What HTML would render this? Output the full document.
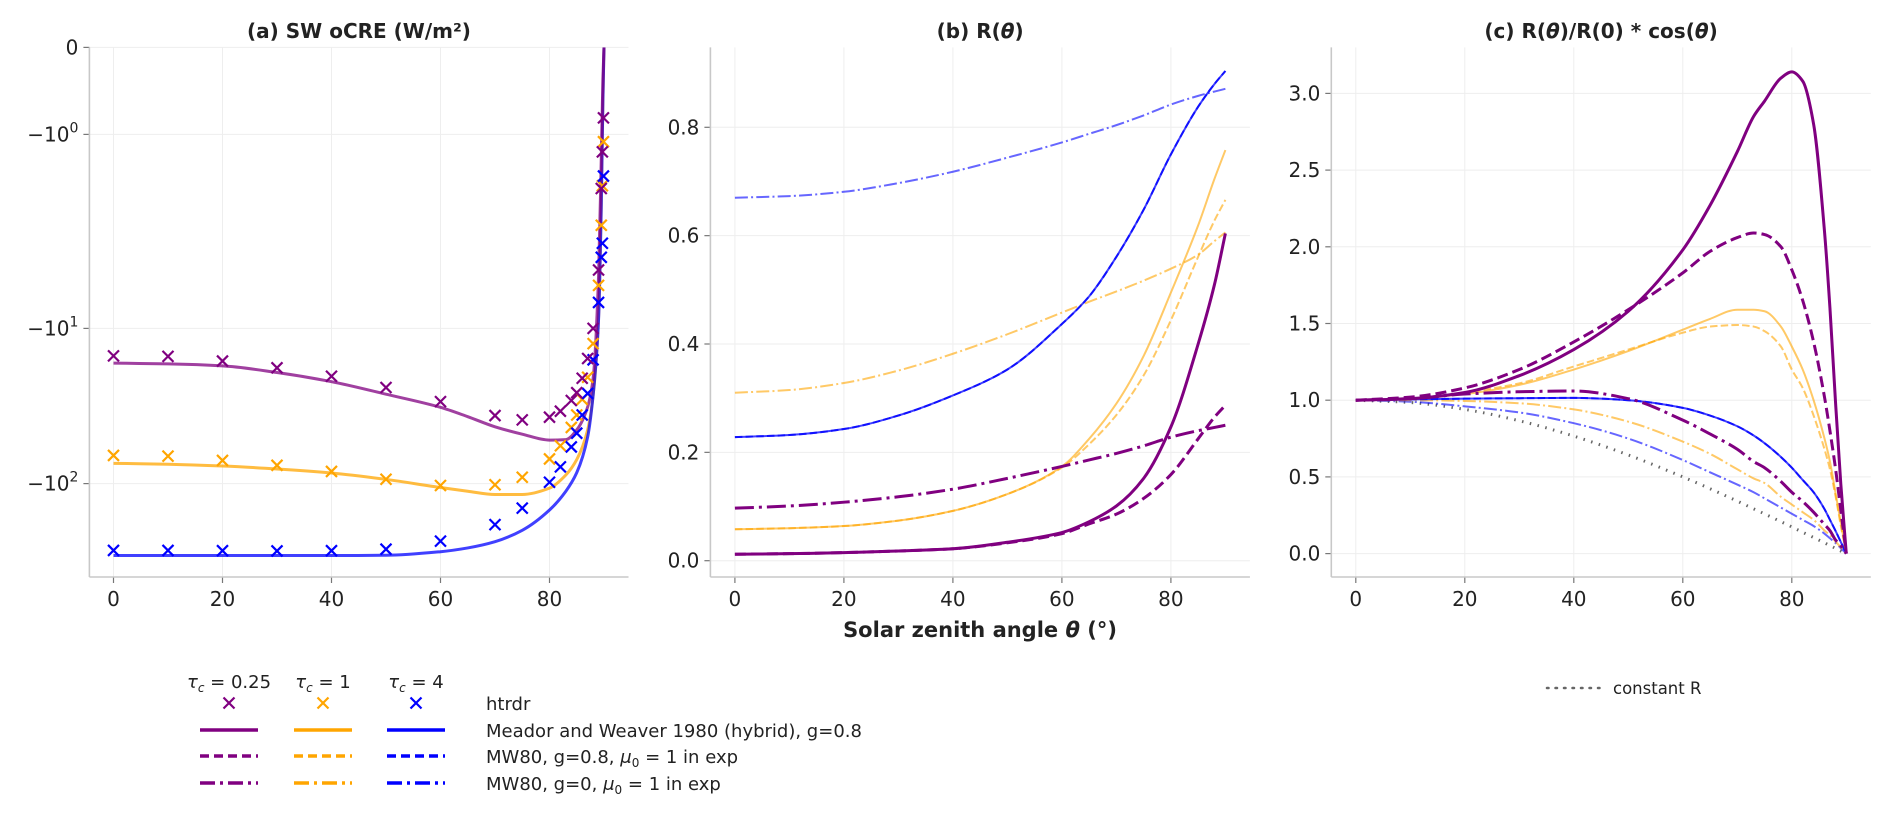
<!DOCTYPE html>
<html><head><meta charset="utf-8"><style>
html,body{margin:0;padding:0;background:#fff;}
body{width:1892px;height:812px;overflow:hidden;font-family:"DejaVu Sans","Liberation Sans",sans-serif;}
svg text{font-family:"DejaVu Sans","Liberation Sans",sans-serif;fill:#222;}
</style></head><body>
<svg id="chart" width="1892" height="812" viewBox="0 0 1892 812" xmlns="http://www.w3.org/2000/svg">
<g id="panels"></g>
<g id="legend">
  <text x="229" y="688" font-size="18" text-anchor="middle"><tspan font-style="italic">τ</tspan><tspan font-size="12" font-style="italic" dy="4">c</tspan><tspan dy="-4"> = 0.25</tspan></text>
  <text x="323" y="688" font-size="18" text-anchor="middle"><tspan font-style="italic">τ</tspan><tspan font-size="12" font-style="italic" dy="4">c</tspan><tspan dy="-4"> = 1</tspan></text>
  <text x="416" y="688" font-size="18" text-anchor="middle"><tspan font-style="italic">τ</tspan><tspan font-size="12" font-style="italic" dy="4">c</tspan><tspan dy="-4"> = 4</tspan></text>
  <g id="legendMarks"></g>
  <text x="486" y="710" font-size="18">htrdr</text>
  <text x="486" y="737" font-size="18">Meador and Weaver 1980 (hybrid), g=0.8</text>
  <text x="486" y="763" font-size="18">MW80, g=0.8, <tspan font-style="italic">μ</tspan><tspan font-size="12" dy="4">0</tspan><tspan dy="-4"> = 1 in exp</tspan></text>
  <text x="486" y="790" font-size="18">MW80, g=0, <tspan font-style="italic">μ</tspan><tspan font-size="12" dy="4">0</tspan><tspan dy="-4"> = 1 in exp</tspan></text>
  <line x1="1547" y1="688" x2="1600" y2="688" stroke="#666" stroke-width="2.5" stroke-dasharray="1.5,7" stroke-linecap="round"/>
  <text x="1613" y="694" font-size="16.5">constant R</text>
</g>
<text x="980" y="637" font-size="21" font-weight="bold" text-anchor="middle">Solar zenith angle <tspan font-style="italic">θ</tspan> (°)</text>
</svg>
<script>
// ---------- data ----------
const xTicks = [0,20,40,60,80];
// Panel (a) htrdr markers
const angA = [0,10,20,30,40,50,60,70,75,80,82,84,85,86,87,88,89,89.5,89.7,89.9];
const htrdrP = [-15.0,-15.1,-16.2,-17.9,-20.3,-24.0,-29.6,-36.4,-38.8,-37.3,-34.1,-29.1,-25.9,-20.9,-15.6,-10.0,-5.0,-1.9,-1.23,-0.81];
const htrdrO = [-65.8,-66.5,-70.9,-76.2,-83.5,-93.7,-102.9,-101.7,-91.0,-69.3,-57,-43.4,-36.1,-28.6,-20.6,-12.5,-6.0,-2.94,-1.84,-1.09];
const htrdrB = [-270,-270,-271,-272,-271,-265,-235,-184,-144,-98,-78,-58,-47.3,-36.1,-26.2,-15.9,-7.35,-4.3,-3.64,-1.64];
// Panel (a) hybrid curves
const angL = [0,10,20,30,40,50,60,65,70,75,80,83,85,87,88,89,89.5,89.8,90];
const hybP = [-16.7,-16.9,-17.4,-19.2,-22.0,-26.5,-32.2,-37,-43,-48,-52.4,-52,-45,-32,-21,-5.4,-1.32,-0.36,0];
const hybO = [-74,-75,-77,-80.5,-85.5,-94,-106,-112,-117.6,-117.6,-107,-88,-70,-45,-27,-8.8,-2.3,-0.6,0];
const hybB = [-291,-291,-291,-291,-291,-290,-275,-260,-237,-200,-148,-112,-85,-50,-27,-9,-2.3,-0.6,0];
const aTickVals = [0,-1,-10,-100];
// Panel (b)
const angB = [0,10,20,30,40,50,60,65,70,75,80,85,88,90];
const bBlueSolid = [0.228,0.232,0.243,0.268,0.305,0.353,0.437,0.488,0.561,0.648,0.750,0.838,0.880,0.904];
const bBlueDashDot = [0.670,0.673,0.681,0.697,0.718,0.744,0.772,0.788,0.804,0.822,0.842,0.858,0.866,0.871];
const bOrSolid = [0.058,0.060,0.064,0.074,0.092,0.123,0.174,0.225,0.290,0.378,0.495,0.619,0.705,0.758];
const bOrDash = [0.058,0.060,0.064,0.074,0.092,0.123,0.172,0.215,0.269,0.342,0.444,0.561,0.628,0.666];
const bOrDashDot = [0.310,0.315,0.328,0.351,0.382,0.418,0.458,0.478,0.497,0.517,0.539,0.565,0.590,0.606];
const bPuSolid = [0.012,0.013,0.015,0.018,0.022,0.034,0.052,0.072,0.101,0.152,0.247,0.400,0.510,0.604];
const bPuDash = [0.012,0.013,0.015,0.018,0.022,0.033,0.050,0.068,0.086,0.115,0.159,0.225,0.265,0.287];
const bPuDashDot = [0.097,0.101,0.108,0.118,0.132,0.152,0.174,0.186,0.198,0.212,0.228,0.240,0.246,0.250];
const bTickVals = [0.0,0.2,0.4,0.6,0.8];
// Panel (c)
const angC = [0,10,20,30,40,50,60,65,70,73,75,78,80,82,84,86,87,88,89,90];
const cPuSolid = [1,1.01,1.05,1.16,1.33,1.58,1.98,2.27,2.62,2.85,2.95,3.10,3.14,3.08,2.80,2.10,1.60,1.00,0.45,0];
const cPuDash = [1,1.02,1.08,1.20,1.38,1.59,1.83,1.97,2.06,2.09,2.08,2.00,1.85,1.65,1.38,1.02,0.80,0.56,0.28,0];
const cPuDashDot = [1,1.01,1.04,1.055,1.06,1.01,0.87,0.78,0.68,0.60,0.56,0.47,0.40,0.34,0.27,0.19,0.15,0.09,0.05,0];
const cOrSolid = [1,1.01,1.04,1.10,1.20,1.32,1.46,1.53,1.59,1.59,1.58,1.48,1.35,1.20,1.00,0.75,0.60,0.40,0.20,0];
const cOrDash = [1,1.01,1.05,1.11,1.22,1.33,1.44,1.48,1.49,1.48,1.45,1.35,1.20,1.08,0.90,0.68,0.55,0.38,0.18,0];
const cOrDashDot = [1,1.0,0.995,0.98,0.94,0.86,0.73,0.65,0.55,0.49,0.46,0.37,0.32,0.27,0.22,0.15,0.12,0.08,0.04,0];
const cBlSolid = [1,1.005,1.01,1.013,1.015,1.0,0.95,0.90,0.83,0.77,0.72,0.63,0.56,0.48,0.40,0.29,0.22,0.15,0.075,0];
const cBlDashDot = [1,0.99,0.96,0.92,0.85,0.75,0.61,0.53,0.45,0.40,0.36,0.30,0.26,0.22,0.18,0.13,0.10,0.07,0.035,0];
const cConst = [1,0.985,0.94,0.866,0.766,0.643,0.5,0.423,0.342,0.292,0.259,0.208,0.174,0.139,0.105,0.070,0.052,0.035,0.017,0];
const cTickVals = [0.0,0.5,1.0,1.5,2.0,2.5,3.0];
const cTickLabels = ["0.0","0.5","1.0","1.5","2.0","2.5","3.0"];

// ---------- layout ----------
const TOP=47.4, BOT=577, PX=5.45;
const panels = [
  {id:'a', x0:113.5, left:89.4},
  {id:'b', x0:734.9, left:710.4},
  {id:'c', x0:1355.8, left:1331.3}
];
panels.forEach(p=>{p.right=p.x0+94.5*PX; p.xs=d=>p.x0+d*PX;});
const yA = v=>{const m=-v; if(m<=1) return 47.4+87*m; if(m<=10) return 134.4+194*Math.log10(m); return 328.6+155*Math.log10(m/10);};
const yB = v=>560.7-v*541.75;
const yC = v=>553.6-v*153.4;
const PUR='#800080', ORA='#FFA500', BLU='#0000FF';
const NS='http://www.w3.org/2000/svg';
const root=document.getElementById('panels');
function mk(tag,attrs,parent){const e=document.createElementNS(NS,tag);for(const k in attrs)e.setAttribute(k,attrs[k]);(parent||root).appendChild(e);return e;}
// monotone cubic Hermite (Fritsch-Carlson) in x
function smoothPath(pts){
  const n=pts.length, dx=[], s=[], m=new Array(n);
  for(let i=0;i<n-1;i++){dx[i]=pts[i+1][0]-pts[i][0]; s[i]=(pts[i+1][1]-pts[i][1])/dx[i];}
  m[0]=s[0]; m[n-1]=s[n-2];
  for(let i=1;i<n-1;i++){
    if(s[i-1]*s[i]<=0) m[i]=0;
    else {const w1=2*dx[i]+dx[i-1], w2=dx[i]+2*dx[i-1]; m[i]=(w1+w2)/(w1/s[i-1]+w2/s[i]);}
  }
  let d='M'+pts[0][0].toFixed(2)+','+pts[0][1].toFixed(2);
  for(let i=0;i<n-1;i++){
    const h=dx[i]/3;
    const c1=[pts[i][0]+h,pts[i][1]+m[i]*h], c2=[pts[i+1][0]-h,pts[i+1][1]-m[i+1]*h];
    d+=' C'+c1[0].toFixed(2)+','+c1[1].toFixed(2)+' '+c2[0].toFixed(2)+','+c2[1].toFixed(2)+' '+pts[i+1][0].toFixed(2)+','+pts[i+1][1].toFixed(2);
  }
  return d;
}
function axes(p,ys,tickVals,tickLabels,title){
  const g=mk('g',{});
  
  
  xTicks.forEach(t=>{
    const l=mk('line',{x1:p.xs(t),x2:p.xs(t),y1:TOP,y2:BOT,stroke:'#eeeeee','stroke-width':1},g);
    
    
  });
  tickVals.forEach((v,i)=>{
    const y=ys(v);
    const l=mk('line',{x1:p.left,x2:p.right,y1:y,y2:y,stroke:'#eeeeee','stroke-width':1},g);
    
    
    mk('line',{x1:p.left-6,x2:p.left,y1:y,y2:y,stroke:'#777','stroke-width':1.2},g);
    const tx=mk('text',{x:p.left-11,y:y+7,'font-size':20,'text-anchor':'end'},g);
    
    
    tx.innerHTML=tickLabels[i];
  });
  xTicks.forEach(t=>{
    mk('line',{x1:p.xs(t),x2:p.xs(t),y1:BOT,y2:BOT+6,stroke:'#777','stroke-width':1.2},g);
    const tx=mk('text',{x:p.xs(t),y:BOT+29,'font-size':20,'text-anchor':'middle'},g);
    
    
    tx.textContent=t;
  });
  const s1=mk('line',{x1:p.left,x2:p.left,y1:TOP,y2:BOT,stroke:'#c8c8c8','stroke-width':1.6},g);
  
  
  const s2=mk('line',{x1:p.left,x2:p.right,y1:BOT,y2:BOT,stroke:'#c8c8c8','stroke-width':1.6},g);
  
  
  const tt=mk('text',{x:(p.left+p.right)/2,y:38,'font-size':20,'font-weight':'bold','text-anchor':'middle'},g);
  
  
  tt.innerHTML=title;
  return g;
}
function line(g,p,ys,angs,vals,color,w,dash,op,name){
  const pts=angs.map((a,i)=>[p.xs(a),ys(vals[i])]);
  const e=mk('path',{d:smoothPath(pts),fill:'none',stroke:color,'stroke-width':w,'stroke-opacity':op,'stroke-dasharray':dash||'none'},g);
  
  
}
function cross(g,x,y,color,name){
  const s=5.5;
  const e=mk('path',{d:`M${x-s},${y-s}L${x+s},${y+s}M${x-s},${y+s}L${x+s},${y-s}`,stroke:color,'stroke-width':2.2,fill:'none'},g);
  
  
}
const DASH3='11,5', DD3='19,5,3,5', DASH2='7.5,3.2', DD2='13,3.2,2,3.2';

// Panel a
const pa=panels[0];
const ga=axes(pa,yA,aTickVals,['0','−10<tspan font-size="14" dy="-9">0</tspan>','−10<tspan font-size="14" dy="-9">1</tspan>','−10<tspan font-size="14" dy="-9">2</tspan>'],'(a) SW oCRE (W/m²)');
const clipA=mk('clipPath',{id:'clipA'});mk('rect',{x:pa.left,y:TOP,width:pa.right-pa.left,height:BOT-TOP},clipA);
const ga2=mk('g',{'clip-path':'url(#clipA)'},ga);
line(ga2,pa,yA,angL,hybO,ORA,3,null,0.75,'line-a-hybrid-tau1');
line(ga2,pa,yA,angL,hybB,BLU,3,null,0.75,'line-a-hybrid-tau4');
line(ga2,pa,yA,angL,hybP,PUR,3,null,0.75,'line-a-hybrid-tau025');
angA.forEach((a,i)=>cross(ga2,pa.xs(a),yA(htrdrO[i]),ORA,'marker-a-htrdr-tau1'));
angA.forEach((a,i)=>cross(ga2,pa.xs(a),yA(htrdrB[i]),BLU,'marker-a-htrdr-tau4'));
angA.forEach((a,i)=>cross(ga2,pa.xs(a),yA(htrdrP[i]),PUR,'marker-a-htrdr-tau025'));

// Panel b
const pb=panels[1];
const gb=axes(pb,yB,bTickVals,['0.0','0.2','0.4','0.6','0.8'],'(b) R(<tspan font-style="italic">θ</tspan>)');
line(gb,pb,yB,angB,bBlueDashDot,BLU,2,DD2,0.6,'line-b-mw80-g0-tau4');
line(gb,pb,yB,angB,bOrDashDot,ORA,2,DD2,0.6,'line-b-mw80-g0-tau1');
line(gb,pb,yB,angB,bBlueSolid,BLU,2,null,0.75,'line-b-hybrid-tau4');
line(gb,pb,yB,angB,bBlueSolid,BLU,2,DASH2,0.75,'line-b-mw80-g08-tau4');
line(gb,pb,yB,angB,bOrSolid,ORA,2,null,0.6,'line-b-hybrid-tau1');
line(gb,pb,yB,angB,bOrDash,ORA,2,DASH2,0.6,'line-b-mw80-g08-tau1');
line(gb,pb,yB,angB,bPuDashDot,PUR,3,DD3,1,'line-b-mw80-g0-tau025');
line(gb,pb,yB,angB,bPuDash,PUR,3,DASH3,1,'line-b-mw80-g08-tau025');
line(gb,pb,yB,angB,bPuSolid,PUR,3,null,1,'line-b-hybrid-tau025');

// Panel c
const pc=panels[2];
const gc=axes(pc,yC,cTickVals,cTickLabels,'(c) R(<tspan font-style="italic">θ</tspan>)/R(0) * cos(<tspan font-style="italic">θ</tspan>)');
line(gc,pc,yC,angC,cConst,'#666',3,'1.5,6.5',1,'line-c-constant-r');
line(gc,pc,yC,angC,cBlDashDot,BLU,2,DD2,0.6,'line-c-mw80-g0-tau4');
line(gc,pc,yC,angC,cOrDashDot,ORA,2,DD2,0.6,'line-c-mw80-g0-tau1');
line(gc,pc,yC,angC,cBlSolid,BLU,2,null,0.75,'line-c-hybrid-tau4');
line(gc,pc,yC,angC,cBlSolid,BLU,2,DASH2,0.75,'line-c-mw80-g08-tau4');
line(gc,pc,yC,angC,cOrSolid,ORA,2,null,0.6,'line-c-hybrid-tau1');
line(gc,pc,yC,angC,cOrDash,ORA,2,DASH2,0.6,'line-c-mw80-g08-tau1');
line(gc,pc,yC,angC,cPuDashDot,PUR,3,DD3,1,'line-c-mw80-g0-tau025');
line(gc,pc,yC,angC,cPuDash,PUR,3,DASH3,1,'line-c-mw80-g08-tau025');
line(gc,pc,yC,angC,cPuSolid,PUR,3,null,1,'line-c-hybrid-tau025');

// Legend handles
const lg=document.getElementById('legendMarks');
const cols=[229,323,416], colors=[PUR,ORA,BLU];
cols.forEach((cx,i)=>{
  cross(lg,cx,703,colors[i],'legend-marker-htrdr');
  [[730,'none'],[756,'9,5'],[783,'15,5,3,5']].forEach(([y,d])=>{
    const e=mk('line',{x1:cx-29,x2:cx+29,y1:y,y2:y,stroke:colors[i],'stroke-width':3.5,'stroke-dasharray':d},lg);
    
    
  });
});
</script>
</body></html>
